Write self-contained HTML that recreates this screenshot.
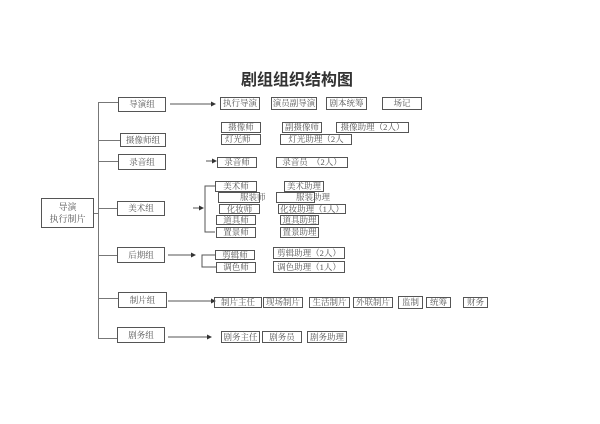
<!DOCTYPE html>
<html><head><meta charset="utf-8"><style>
body{margin:0;width:600px;height:424px;background:#fff;position:relative;overflow:hidden;font-family:"Liberation Serif","Noto Serif CJK SC","Noto Sans CJK SC",serif;color:#555}
.b{position:absolute;border:1.3px solid #555;box-sizing:border-box;font-size:8.5px;line-height:1;display:flex;align-items:center;justify-content:center;white-space:nowrap;background:transparent}
.l{position:absolute;background:#777}
.t{position:absolute;font-size:8.5px;white-space:nowrap;line-height:1}
</style></head><body>
<div style="position:absolute;left:0;width:600px;top:66px;text-align:center;font-family:'Liberation Sans','Noto Sans CJK SC',sans-serif;font-size:16px;font-weight:bold;color:#333;"><span style="position:relative;left:-3px">剧组组织结构图</span></div>

<div style="position:absolute;left:41px;top:198px;width:53px;height:30px;border:1.3px solid #555;box-sizing:border-box;font-size:9px;line-height:12px;text-align:center;padding-top:2px">导演<br>执行制片</div>
<div class="l" style="left:94px;top:213px;width:4px;height:1px"></div>
<div class="l" style="left:98px;top:102px;width:1px;height:236px"></div>

<div class="l" style="left:98px;top:102px;width:20px;height:1px"></div>
<div class="l" style="left:98px;top:140px;width:22px;height:1px"></div>
<div class="l" style="left:98px;top:161px;width:20px;height:1px"></div>
<div class="l" style="left:98px;top:208px;width:19px;height:1px"></div>
<div class="l" style="left:98px;top:255px;width:19px;height:1px"></div>
<div class="l" style="left:98px;top:298px;width:20px;height:1px"></div>
<div class="l" style="left:98px;top:338px;width:20px;height:1px"></div>

<div class="b" style="left:118px;top:97px;width:48px;height:15px">导演组</div>
<div class="b" style="left:120px;top:133px;width:46px;height:14px">摄像师组</div>
<div class="b" style="left:118px;top:154px;width:48px;height:16px">录音组</div>
<div class="b" style="left:117px;top:201px;width:48px;height:15px">美术组</div>
<div class="b" style="left:117px;top:247px;width:48px;height:16px">后期组</div>
<div class="b" style="left:118px;top:292px;width:49px;height:16px">制片组</div>
<div class="b" style="left:117px;top:327px;width:48px;height:16px">剧务组</div>

<svg style="position:absolute;left:0;top:0" width="600" height="424">
<g stroke="#555" stroke-width="1" fill="none">
<line x1="170" y1="104" x2="212" y2="104"/>
<line x1="206" y1="161" x2="213" y2="161"/>
<line x1="193" y1="208" x2="200" y2="208"/>
<polyline points="215,186 205,186 205,232 215,232"/>
<line x1="168" y1="255" x2="192" y2="255"/>
<polyline points="215,255 202,255 202,267 216,267"/>
<line x1="168" y1="301" x2="212" y2="301"/>
<line x1="168" y1="337" x2="210" y2="337"/>
</g>
<g fill="#333">
<polygon points="216,104 211,101.5 211,106.5"/>
<polygon points="217,161 212,158.5 212,163.5"/>
<polygon points="204,208 199,205.5 199,210.5"/>
<polygon points="196,255 191,252.5 191,257.5"/>
<polygon points="216,301 211,298.5 211,303.5"/>
<polygon points="212,337 207,334.5 207,339.5"/>
</g>
</svg>

<div class="b" style="left:220px;top:97px;width:40px;height:13px">执行导演</div>
<div class="b" style="left:271px;top:97px;width:46px;height:13px">演员副导演</div>
<div class="b" style="left:326px;top:97px;width:41px;height:13px">剧本统筹</div>
<div class="b" style="left:382px;top:97px;width:40px;height:13px">场记</div>
<div class="b" style="left:221px;top:122px;width:40px;height:11px">摄像师</div>
<div class="b" style="left:282px;top:122px;width:40px;height:11px">副摄像师</div>
<div class="b" style="left:336px;top:122px;width:73px;height:11px">摄像助理（2人）</div>
<div class="b" style="left:221px;top:134px;width:40px;height:11px;justify-content:flex-start;padding-left:3px">灯光师</div>
<div class="b" style="left:280px;top:134px;width:72px;height:11px">灯光助理（2人</div>
<div class="b" style="left:217px;top:157px;width:40px;height:11px">录音师</div>
<div class="b" style="left:276px;top:157px;width:72px;height:11px">录音员　（2人）</div>
<div class="b" style="left:215px;top:181px;width:42px;height:11px">美术师</div>
<div class="b" style="left:284px;top:181px;width:40px;height:11px">美术助理</div>
<div class="b" style="left:218px;top:192px;width:42px;height:11px"></div>
<div class="t" style="left:240px;top:193px">服装师</div>
<div class="b" style="left:276px;top:192px;width:39px;height:11px"></div>
<div class="t" style="left:296px;top:193px">服装助理</div>
<div class="b" style="left:219px;top:204px;width:41px;height:10px">化妆师</div>
<div class="b" style="left:278px;top:204px;width:68px;height:10px">化妆助理（1人）</div>
<div class="b" style="left:216px;top:215px;width:40px;height:10px">道具师</div>
<div class="b" style="left:280px;top:215px;width:39px;height:10px">道具助理</div>
<div class="b" style="left:216px;top:227px;width:40px;height:11px">置景师</div>
<div class="b" style="left:280px;top:227px;width:39px;height:11px">置景助理</div>
<div class="b" style="left:215px;top:250px;width:40px;height:10px">剪辑师</div>
<div class="b" style="left:273px;top:247px;width:72px;height:12px">剪辑助理（2人）</div>
<div class="b" style="left:216px;top:262px;width:40px;height:11px">调色师</div>
<div class="b" style="left:273px;top:261px;width:72px;height:12px">调色助理（1人）</div>
<div class="b" style="left:214px;top:297px;width:48px;height:11px">制片主任</div>
<div class="b" style="left:263px;top:297px;width:40px;height:11px">现场制片</div>
<div class="b" style="left:309px;top:297px;width:41px;height:11px">生活制片</div>
<div class="b" style="left:353px;top:297px;width:40px;height:11px">外联制片</div>
<div class="b" style="left:398px;top:296px;width:25px;height:13px">监制</div>
<div class="b" style="left:426px;top:297px;width:25px;height:11px">统筹</div>
<div class="b" style="left:463px;top:297px;width:25px;height:11px">财务</div>
<div class="b" style="left:221px;top:331px;width:39px;height:12px">剧务主任</div>
<div class="b" style="left:262px;top:331px;width:40px;height:12px">剧务员</div>
<div class="b" style="left:307px;top:331px;width:40px;height:12px">剧务助理</div>
</body></html>
